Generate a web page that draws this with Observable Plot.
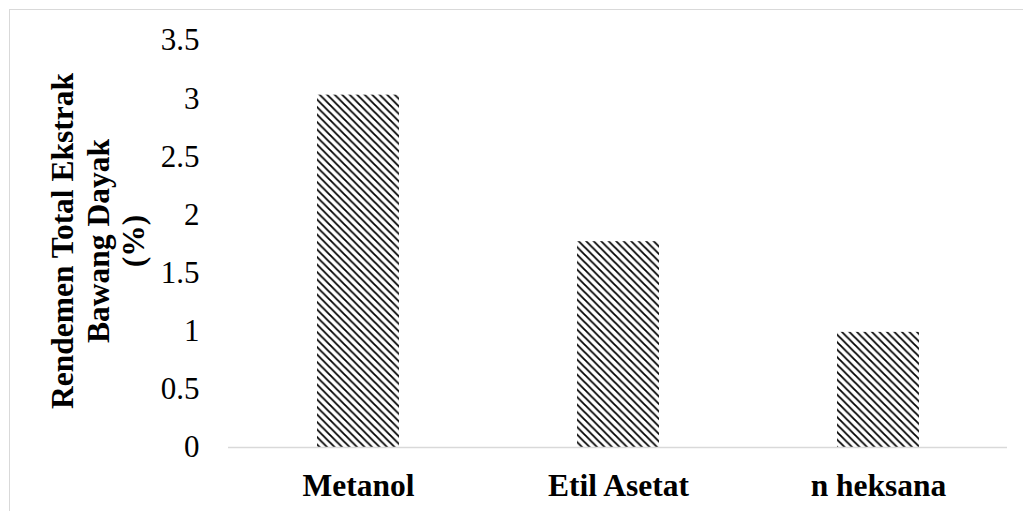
<!DOCTYPE html>
<html>
<head>
<meta charset="utf-8">
<script src="https://cdn.jsdelivr.net/npm/d3@7"></script>
<script src="https://cdn.jsdelivr.net/npm/@observablehq/plot@0.6"></script>
<style>
  html, body { margin: 0; padding: 0; background: #fff; }
  #wrap { position: relative; width: 1023px; height: 511px; overflow: hidden; }
  #frame { position: absolute; left: 9px; top: 9px; width: 1100px; height: 600px;
           border-top: 1.5px solid #d9d9d9; border-left: 1.5px solid #d9d9d9; }
  #chart { position: absolute; left: 0; top: 0; }
</style>
</head>
<body>
<div id="wrap"><div id="frame"></div><div id="chart"></div></div>
<script>
const categories = ["Metanol", "Etil Asetat", "n heksana"];
const values = [3.03, 1.77, 0.99];
const yTicks = [0, 0.5, 1, 1.5, 2, 2.5, 3, 3.5];
const yLabel = "Rendemen Total Ekstrak\nBawang Dayak\n(%)";

const data = categories.map((c, i) => ({category: c, value: values[i]}));

const chart = Plot.plot({
  width: 1023,
  height: 511,
  marginLeft: 228,
  marginRight: 16,
  marginTop: 40,
  marginBottom: 64,
  style: {fontFamily: "'Liberation Serif', 'Times New Roman', serif", background: "transparent", color: "#000"},
  x: {domain: categories, paddingInner: 0.685, paddingOuter: 0.34, label: null},
  y: {domain: [0, 3.5], label: null},
  marks: [
    Plot.barY(data, {x: "category", y: "value", fill: "url(#hatch)"}),
    Plot.ruleY([0], {stroke: "#d9d9d9", strokeWidth: 1.5}),
    Plot.axisY({ticks: yTicks, tickFormat: d => String(d), tickSize: 0, tickPadding: 29,
                fontSize: 31, label: null}),
    Plot.axisX({tickSize: 0, tickPadding: 26, fontSize: 31.5, fontWeight: "bold", label: null}),
    Plot.text([yLabel], {frameAnchor: "left", rotate: -90, dx: -131, dy: -3, fontSize: 31.5,
                         fontWeight: "bold", lineHeight: 1.13, textAnchor: "middle", lineAnchor: "middle", fill: "#000"})
  ]
});

const svg = d3.select(chart);
const defs = svg.insert("defs", ":first-child");
const P = 7.5;
const pat = defs.append("pattern")
  .attr("id", "hatch")
  .attr("patternUnits", "userSpaceOnUse")
  .attr("width", P).attr("height", P);
pat.append("rect").attr("width", P).attr("height", P).attr("fill", "#fff");
pat.append("path")
  .attr("d", `M0,0 L${P},${P} M${-P/2},${P/2} L${P/2},${1.5*P} M${P/2},${-P/2} L${1.5*P},${P/2}`)
  .attr("stroke", "#000").attr("stroke-width", 1.8);

document.getElementById("chart").appendChild(chart);
</script>
</body>
</html>
